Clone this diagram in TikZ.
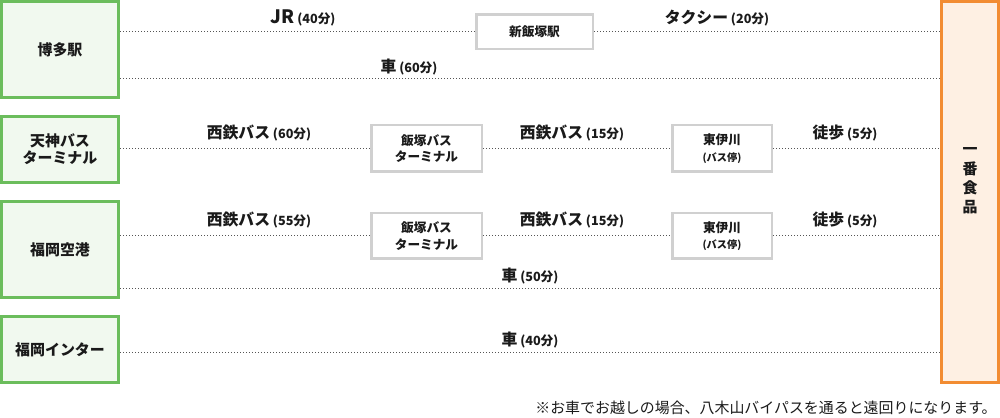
\documentclass[tikz,border=0pt]{standalone}
\usepackage{fontspec}
\setmainfont{Noto Sans CJK JP}
\usepackage{xcolor}
\usepackage{tikz}

\definecolor{startgreen}{HTML}{6BBD5C}
\definecolor{startfill}{HTML}{F1F9EF}
\definecolor{goalorange}{HTML}{F28C32}
\definecolor{goalfill}{HTML}{FEF0E3}
\definecolor{viagray}{HTML}{D0D0D0}
\definecolor{routegray}{HTML}{555555}
\definecolor{ink}{HTML}{1A1A1A}

\newcommand{\mins}[1]{{\fontsize{7.2}{8}\selectfont\ (#1分)}}

\begin{document}
\begin{tikzpicture}[x=0.2mm, y=-0.2mm, text=ink,
    start/.style={draw=startgreen, fill=startfill, line width=0.6mm, inner sep=0pt,
      minimum width=23.4mm, align=center, font=\fontsize{8.5}{9.6}\selectfont\bfseries},
    goal/.style={draw=goalorange, fill=goalfill, line width=0.6mm, inner sep=0pt,
      minimum width=11.4mm, minimum height=76.2mm},
    goaltext/.style={align=center, yshift=2.2mm, font=\fontsize{8.5}{11}\selectfont\bfseries},
    via/.style={draw=viagray, fill=white, line width=0.5mm, inner sep=0pt,
      align=center, font=\fontsize{7.2}{9.5}\selectfont\bfseries},
    route/.style={draw=routegray, line width=0.2mm, dash pattern=on 0.2mm off 0.4mm},
    ride/.style={font=\fontsize{9}{10}\selectfont\bfseries}]

  \useasboundingbox (0,0) rectangle (1000,418);

  % starting points
  \node[start, minimum height=19.2mm] (hakata) at (60,49.5) {博多駅};
  \node[start, minimum height=13.2mm] (tenjin) at (60,149.5) {天神バス\\ターミナル};
  \node[start, minimum height=19.2mm] (airport) at (60,249.5) {福岡空港};
  \node[start, minimum height=13.2mm] (inter) at (60,349.5) {福岡インター};

  % destination
  \node[goal, label={[goaltext]center:一\\番\\食\\品}] (ichiban) at (970,192) {};

  % stops on the way
  \node[via, minimum width=23.3mm, minimum height=6.9mm] (shiniizuka) at (534.5,32) {新飯塚駅};
  \node[via, minimum width=22.1mm, minimum height=9.3mm] (iizuka1) at (426.5,148.5) {飯塚バス\\ターミナル};
  \node[via, minimum width=19.9mm, minimum height=9.3mm] (higashi1) at (722,148.5)
    {東伊川\\{\fontsize{5.8}{6}\selectfont (バス停)}};
  \node[via, minimum width=22.1mm, minimum height=9.1mm] (iizuka2) at (426.5,236) {飯塚バス\\ターミナル};
  \node[via, minimum width=19.9mm, minimum height=9.1mm] (higashi2) at (722,236)
    {東伊川\\{\fontsize{5.8}{6}\selectfont (バス停)}};

  % routes
  \draw[route] (hakata.east |- shiniizuka) -- (shiniizuka.west);
  \draw[route] (shiniizuka.east) -- (ichiban.west |- shiniizuka);
  \draw[route] (hakata.east |- 0,79) -- (ichiban.west |- 0,79);

  \draw[route] (tenjin.east |- iizuka1) -- (iizuka1.west);
  \draw[route] (iizuka1.east) -- (higashi1.west);
  \draw[route] (higashi1.east) -- (ichiban.west |- higashi1);

  \draw[route] (airport.east |- iizuka2) -- (iizuka2.west);
  \draw[route] (iizuka2.east) -- (higashi2.west);
  \draw[route] (higashi2.east) -- (ichiban.west |- higashi2);
  \draw[route] (airport.east |- 0,289) -- (ichiban.west |- 0,289);

  \draw[route] (inter.east |- 0,353) -- (ichiban.west |- 0,353);

  % route labels
  \node[ride] (jr) at (303,18) {{\fontsize{10.5}{11}\selectfont JR}\mins{40}};
  \node[ride] (taxi) at (717,18) {タクシー\mins{20}};
  \node[ride] (car60) at (409,67) {車\mins{60}};
  \node[ride] (bus60) at (259,133) {西鉄バス\mins{60}};
  \node[ride] (bus15a) at (572,133) {西鉄バス\mins{15}};
  \node[ride] (walka) at (845,133) {徒歩\mins{5}};
  \node[ride] (bus55) at (259,220) {西鉄バス\mins{55}};
  \node[ride] (bus15b) at (572,220) {西鉄バス\mins{15}};
  \node[ride] (walkb) at (845,220) {徒歩\mins{5}};
  \node[ride] (car50) at (530,276) {車\mins{50}};
  \node[ride] (car40) at (530,340) {車\mins{40}};

  % note
  \node[anchor=west, font=\fontsize{8.5}{9}\selectfont, inner sep=0pt] (note) at (535,408)
    {※お車でお越しの場合、八木山バイパスを通ると遠回りになります。};
\end{tikzpicture}
\end{document}
